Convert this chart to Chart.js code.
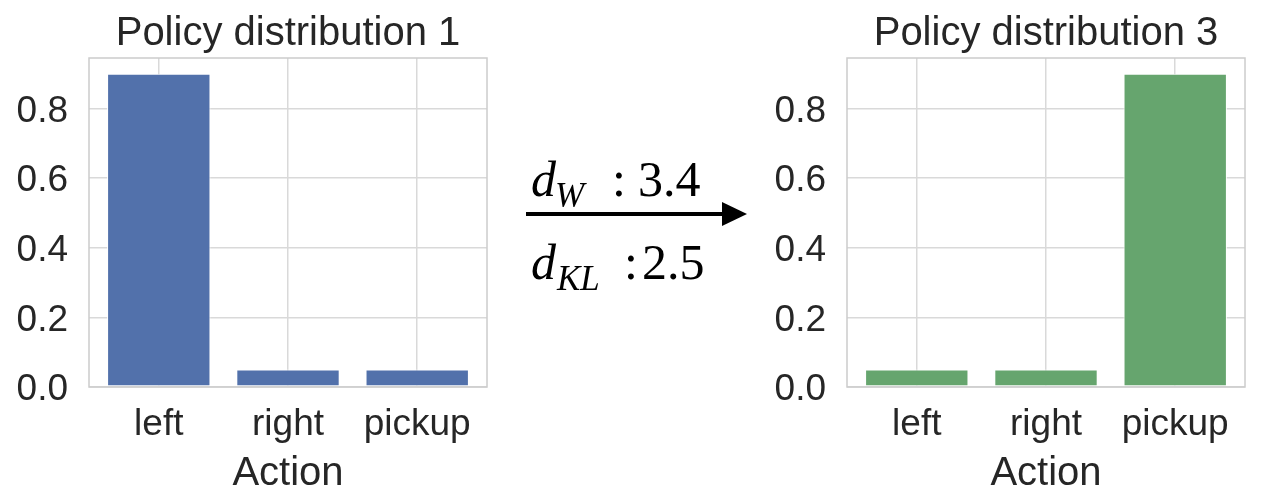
<!DOCTYPE html>
<html><head><meta charset="utf-8">
<script src="https://cdn.jsdelivr.net/npm/chart.js@4"></script>
<style>
html,body{margin:0;padding:0;background:#fff;}
#wrap{position:relative;width:1264px;height:504px;overflow:hidden;background:#fff;}
.cv{position:absolute;top:0;width:500px;height:504px;}
#c1{left:0px}
#c2{left:758px}
svg{position:absolute;left:0;top:0;}
</style></head><body>
<div id="wrap">
<div class="cv" id="c1"><canvas id="chart1" width="500" height="504"></canvas></div>
<div class="cv" id="c2"><canvas id="chart2" width="500" height="504"></canvas></div>
<svg width="1264" height="504" font-family="'Liberation Serif','Times New Roman',serif" fill="#000">
  <text id="m1" font-size="50"></text>
  <text id="m2" font-size="50"></text>
  <line x1="526" y1="214" x2="724" y2="214" stroke="#000" stroke-width="4"/>
  <polygon points="722,202 747,214 722,226" fill="#000"/>
</svg>
</div>
<script>
const categories = ['left', 'right', 'pickup'];
const policy1 = [0.9, 0.05, 0.05];
const policy3 = [0.05, 0.05, 0.9];
const yTicks = [0, 0.2, 0.4, 0.6, 0.8];
const titles = ['Policy distribution 1', 'Policy distribution 3'];
const xAxisLabel = 'Action';
const metricNames = ['W', 'KL'];
const metricValues = ['3.4', '2.5'];

// annotation text between the two charts
function setMetric(id, name, value, baseY, subDy, subX, colonX, valX) {
  const t = document.getElementById(id);
  t.innerHTML = '';
  const ns = 'http://www.w3.org/2000/svg';
  const add = (txt, x, y, italic, size) => {
    const s = document.createElementNS(ns, 'tspan');
    s.setAttribute('x', x); s.setAttribute('y', y);
    if (italic) s.setAttribute('font-style', 'italic');
    if (size) s.setAttribute('font-size', size);
    s.textContent = txt;
    t.appendChild(s);
  };
  add('d', 531, baseY, true);
  add(name, subX, baseY + subDy, true, 35);
  add(':', colonX, baseY, false);
  add(value, valX, baseY, false);
}
setMetric('m1', metricNames[0], metricValues[0], 196, 11, 555, 612, 638);
setMetric('m2', metricNames[1], metricValues[1], 279, 11, 557, 624, 642);

const boxPlugin = {
  id: 'box',
  afterDatasetsDraw(chart) {
    const a = chart.chartArea, ctx = chart.ctx;
    ctx.save();
    ctx.strokeStyle = '#cccccc';
    ctx.lineWidth = 1.5;
    ctx.strokeRect(a.left, a.top, a.right - a.left, a.bottom - a.top);
    ctx.restore();
  }
};

const FONT = "'Liberation Sans', Arial, sans-serif";
const TXT = '#262626';

function makeChart(id, values, color, title) {
  return new Chart(document.getElementById(id), {
    type: 'bar',
    data: {
      datasets: [{
        data: categories.map((c, i) => ({ x: i, y: values[i] })),
        backgroundColor: color,
        borderColor: '#ffffff',
        borderWidth: 1,
        borderSkipped: false,
        categoryPercentage: 0.8,
        barPercentage: 1.0
      }]
    },
    options: {
      responsive: false,
      animation: false,
      devicePixelRatio: 1,
      layout: { padding: { left: 0, right: 13, top: 0, bottom: 0 } },
      plugins: {
        legend: { display: false },
        tooltip: { enabled: false },
        title: {
          display: true, text: title, color: TXT, fullSize: false,
          font: { family: FONT, size: 40, weight: 'normal', lineHeight: 1.2 },
          padding: { top: 10, bottom: 0 }
        }
      },
      scales: {
        x: {
          type: 'linear', min: -0.54, max: 2.54, offset: false,
          afterBuildTicks: s => { s.ticks = categories.map((c, i) => ({ value: i })); },
          afterFit: s => { s.height = 117; },
          grid: { color: '#d9d9d9', lineWidth: 1.5, drawTicks: false, offset: false },
          border: { display: false },
          ticks: {
            color: TXT, padding: 16, maxRotation: 0, autoSkip: false,
            font: { family: FONT, size: 37 },
            callback: v => categories[v]
          },
          title: {
            display: true, text: xAxisLabel, color: TXT,
            font: { family: FONT, size: 40, lineHeight: 1.2 },
            padding: { top: 0, bottom: 6 }
          }
        },
        y: {
          min: 0, max: 0.945,
          afterBuildTicks: s => { s.ticks = yTicks.map(v => ({ value: v })); },
          afterFit: s => { s.width = 89; },
          grid: { color: '#d9d9d9', lineWidth: 1.5, drawTicks: false },
          border: { display: false },
          ticks: {
            color: TXT, padding: 21, labelOffset: 3,
            font: { family: FONT, size: 37 },
            callback: v => Number(v).toFixed(1)
          }
        }
      }
    },
    plugins: [boxPlugin]
  });
}

makeChart('chart1', policy1, '#5271ab', titles[0]);
makeChart('chart2', policy3, '#66a56e', titles[1]);
</script>
</body></html>
